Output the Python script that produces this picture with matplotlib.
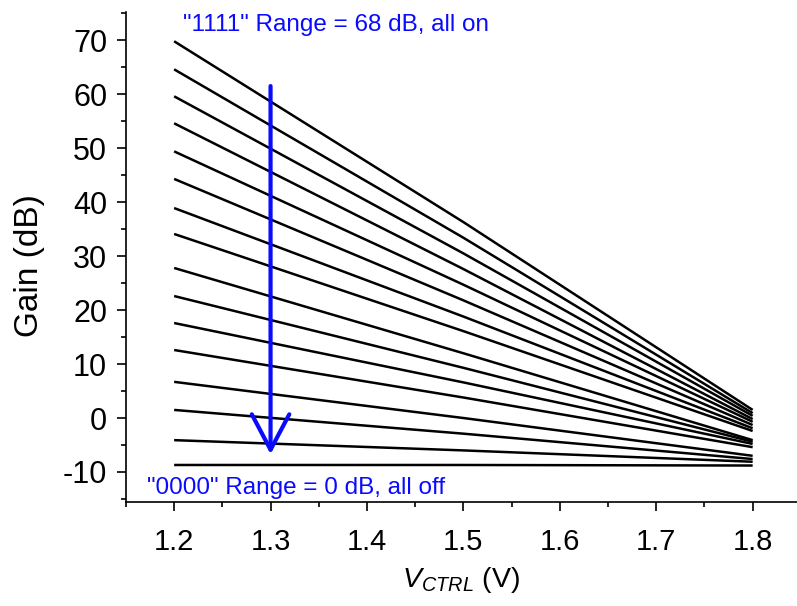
import matplotlib
matplotlib.use("Agg")
import matplotlib.pyplot as plt
from matplotlib.ticker import MultipleLocator

plt.rcParams['font.family'] = ['Liberation Sans', 'DejaVu Sans']
plt.rcParams['axes.unicode_minus'] = False
plt.rcParams['mathtext.fontset'] = 'custom'
plt.rcParams['mathtext.rm'] = 'Liberation Sans'
plt.rcParams['mathtext.it'] = 'Liberation Sans:italic'

# Control voltage sweep points (V)
v_ctrl = [1.2, 1.5, 1.8]

# Gain (dB) for each of the 16 control codes, "1111" down to "0000"
gain_1111 = [69.8, 36.3, 1.5]
gain_1110 = [64.6, 33.4, 0.9]
gain_1101 = [59.6, 30.5, 0.4]
gain_1100 = [54.6, 27.6, -0.2]
gain_1011 = [49.4, 24.7, -0.7]
gain_1010 = [44.3, 21.8, -1.3]
gain_1001 = [38.9, 18.8, -1.9]
gain_1000 = [34.1, 16.1, -2.4]
gain_0111 = [27.8, 12.0, -4.1]
gain_0110 = [22.6, 9.3, -4.4]
gain_0101 = [17.6, 6.6, -4.8]
gain_0100 = [12.6, 3.8, -5.4]
gain_0011 = [6.7, 0.0, -7.0]
gain_0010 = [1.5, -2.9, -7.6]
gain_0001 = [-4.1, -6.0, -8.1]
gain_0000 = [-8.7, -8.7, -8.8]

curves = [gain_1111, gain_1110, gain_1101, gain_1100, gain_1011, gain_1010,
          gain_1001, gain_1000, gain_0111, gain_0110, gain_0101, gain_0100,
          gain_0011, gain_0010, gain_0001, gain_0000]

x_ticks = [1.2, 1.3, 1.4, 1.5, 1.6, 1.7, 1.8]
x_tick_labels = ['1.2', '1.3', '1.4', '1.5', '1.6', '1.7', '1.8']

blue = '#0a0aff'

fig = plt.figure(figsize=(7.97, 6.06), dpi=100)
ax = fig.add_axes([0.158, 0.1716, 0.842, 0.8084])

for g in curves:
    ax.plot(v_ctrl, g, color='black', lw=1.8, solid_capstyle='butt')

ax.set_xlim(1.15, 1.846)
ax.set_ylim(-15.56, 75.2)

ax.spines['top'].set_visible(False)
ax.spines['right'].set_visible(False)
for s in ('left', 'bottom'):
    ax.spines[s].set_linewidth(1.2)

ax.xaxis.set_major_locator(MultipleLocator(0.1))
ax.xaxis.set_minor_locator(MultipleLocator(0.05))
ax.yaxis.set_major_locator(MultipleLocator(10))
ax.yaxis.set_minor_locator(MultipleLocator(5))
ax.tick_params(which='major', direction='out', length=6.5, width=1.2)
ax.tick_params(which='minor', direction='out', length=3.5, width=1.2)
ax.tick_params(axis='y', which='major', labelsize=22, pad=7)
ax.tick_params(axis='x', which='major', labelsize=21, pad=12)
ax.set_xticks(x_ticks)
ax.set_xticklabels(x_tick_labels)

ax.set_ylabel('Gain (dB)', fontsize=24)
ax.yaxis.set_label_coords(-0.1207, 0.482)
ax.set_xlabel(r'$V_{CTRL}$ (V)', fontsize=20.5, labelpad=7)

# Sweep arrow from all-on to all-off code
ax.annotate('', xy=(1.3, -6.7), xytext=(1.3, 61.5),
            arrowprops=dict(arrowstyle='->,head_length=25.5,head_width=13.5',
                            mutation_scale=1, color=blue, lw=3.0,
                            shrinkA=0, shrinkB=0))

ax.text(1.2095, 72.9, '"1111" Range = 68 dB, all on', color=blue,
        fontsize=17.5, ha='left', va='center')
ax.text(1.172, -12.9, '"0000" Range = 0 dB, all off', color=blue,
        fontsize=17.5, ha='left', va='center')

fig.savefig('out.png', dpi=100)
